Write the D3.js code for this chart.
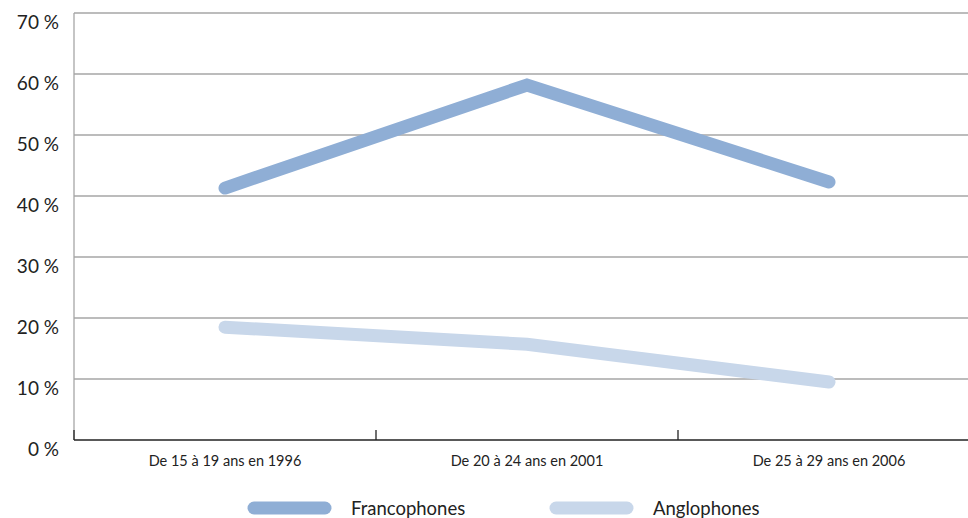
<!DOCTYPE html>
<html lang="fr">
<head>
<meta charset="UTF-8">
<title>Chart</title>
<script src="https://d3js.org/d3.v7.min.js"></script>
<style>
  body { margin: 0; background: #fff; }
  text { font-family: Lato, "Open Sans", sans-serif; fill: #222; }
</style>
</head>
<body>
<div id="chart"></div>
<script>
// data
var categories = ["De 15 à 19 ans en 1996", "De 20 à 24 ans en 2001", "De 25 à 29 ans en 2006"];
var francophones = [41.3, 58.2, 42.3];
var anglophones = [18.5, 15.7, 9.5];
var yTicks = [0, 10, 20, 30, 40, 50, 60, 70];
var seriesNames = ["Francophones", "Anglophones"];
var seriesColors = ["#8faed5", "#c8d7ea"];

var W = 968, H = 518;
var margin = {left: 74, top: 13};
var plotW = 906, plotH = 427;

var svg = d3.select("#chart").append("svg")
    .attr("width", W).attr("height", H);

var x = d3.scaleBand().domain(categories).range([margin.left, margin.left + plotW]);
var y = d3.scaleLinear().domain([0, 70]).range([margin.top + plotH, margin.top]);

// gridlines
svg.append("g").selectAll("line")
    .data(yTicks.filter(function(d){ return d > 0; }))
    .enter().append("line")
    .attr("x1", margin.left).attr("x2", margin.left + plotW)
    .attr("y1", function(d){ return y(d); })
    .attr("y2", function(d){ return y(d); })
    .attr("stroke", "#a6a6a6").attr("stroke-width", 1.3);

// left axis line
svg.append("line")
    .attr("x1", margin.left).attr("x2", margin.left)
    .attr("y1", y(70)).attr("y2", y(0))
    .attr("stroke", "#a6a6a6").attr("stroke-width", 1.3);

// y labels (sit a bit below their gridline)
svg.append("g").selectAll("text")
    .data(yTicks).enter().append("text")
    .attr("x", 59)
    .attr("y", function(d){ return y(d) + 16; })
    .attr("text-anchor", "end")
    .style("font-size", "19px")
    .text(function(d){ return d + " %"; });

// x axis
svg.append("line")
    .attr("x1", margin.left).attr("x2", margin.left + plotW)
    .attr("y1", y(0)).attr("y2", y(0))
    .attr("stroke", "#222").attr("stroke-width", 1.6);

svg.append("g").selectAll("line")
    .data(categories.slice(1)).enter().append("line")
    .attr("x1", function(d){ return x(d); })
    .attr("x2", function(d){ return x(d); })
    .attr("y1", y(0) - 10).attr("y2", y(0))
    .attr("stroke", "#222").attr("stroke-width", 1.3);

svg.append("line")
    .attr("x1", margin.left).attr("x2", margin.left)
    .attr("y1", y(0) - 10).attr("y2", y(0))
    .attr("stroke", "#222").attr("stroke-width", 1.3);

svg.append("g").selectAll("text")
    .data(categories).enter().append("text")
    .attr("x", function(d){ return x(d) + x.bandwidth() / 2; })
    .attr("y", 466)
    .attr("text-anchor", "middle")
    .style("font-size", "14.5px")
    .text(function(d){ return d; });

// lines
var line = d3.line()
    .x(function(d, i){ return x(categories[i]) + x.bandwidth() / 2; })
    .y(function(d){ return y(d); });

[anglophones, francophones].forEach(function(s, k){
    svg.append("path")
        .attr("d", line(s))
        .attr("fill", "none")
        .attr("stroke", seriesColors[1 - k])
        .attr("stroke-width", 13)
        .attr("stroke-linecap", "round")
        .attr("stroke-linejoin", "miter");
});

// legend
var legX = [248, 550];
seriesNames.forEach(function(n, i){
    svg.append("line")
        .attr("x1", legX[i] + 6).attr("x2", legX[i] + 77)
        .attr("y1", 508).attr("y2", 508)
        .attr("stroke", seriesColors[i])
        .attr("stroke-width", 13)
        .attr("stroke-linecap", "round");
    svg.append("text")
        .attr("x", legX[i] + 103)
        .attr("y", 515)
        .style("font-size", "18.5px")
        .text(n);
});
</script>
</body>
</html>
